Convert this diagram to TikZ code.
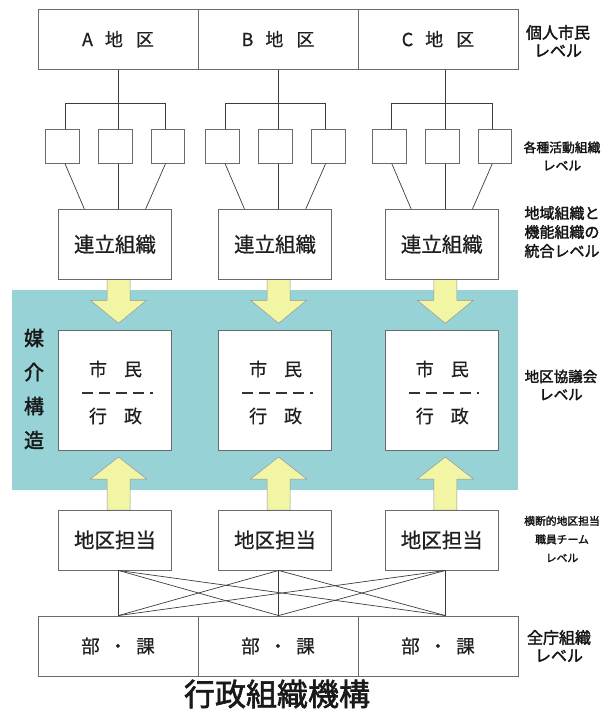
\documentclass[tikz,border=0pt]{standalone}
\usepackage{fontspec}
\newfontfamily\jp[FakeBold=0.6]{Noto Sans CJK JP}
\newfontfamily\jpb[FakeBold=2]{Noto Sans CJK JP}
\usetikzlibrary{calc}
\definecolor{teal1}{HTML}{96D2D6}
\definecolor{yel}{HTML}{F2F5A3}
\definecolor{edge}{HTML}{6A6A6A}
\definecolor{ln}{HTML}{3C3C3C}
\begin{document}
\begin{tikzpicture}[x=1pt,y=-1pt,
  every node/.style={font=\jp, text=black!88},
  cellbox/.style={draw=edge, line width=0.9pt, fill=white, minimum width=160pt, minimum height=60pt, inner sep=0pt},
  smallbox/.style={draw=edge, line width=0.9pt, fill=white, minimum width=33.7pt, minimum height=33.3pt, inner sep=0pt},
  colbox/.style={draw=edge, line width=0.9pt, fill=white, minimum width=113.4pt, inner sep=0pt},
  conn/.style={draw=ln, line width=0.7pt},
  blockarrow/.style={fill=yel, draw=edge!70, line width=0.5pt},
  dashl/.style={draw=black!80, line width=2.4pt},
  lvl/.style={align=center, text=black!92},
]
\useasboundingbox (0,0) rectangle (601,711);
\fill[white] (0,0) rectangle (601,711);
% mediating region
\fill[teal1] (11.5,290) rectangle (518,490);
\node[font=\jpb\fontsize{20}{34}\selectfont, align=center, text=black!90] (med) at (34,389) {媒\\介\\構\\造};

% top and bottom rows
\node[cellbox, font=\jp\fontsize{18}{18}\selectfont] (ta) at (118,39.3) {A\hspace{12pt}地\hspace{13pt}区};
\node[cellbox, font=\jp\fontsize{18}{18}\selectfont] (tb) at (278,39.3) {B\hspace{12pt}地\hspace{13pt}区};
\node[cellbox, font=\jp\fontsize{18}{18}\selectfont] (tc) at (438,39.3) {C\hspace{12pt}地\hspace{13pt}区};
\node[cellbox, font=\jp\fontsize{18.5}{18.5}\selectfont] (ba) at (118,646) {部\hspace{9pt}・\hspace{9pt}課};
\node[cellbox, font=\jp\fontsize{18.5}{18.5}\selectfont] (bb) at (278,646) {部\hspace{9pt}・\hspace{9pt}課};
\node[cellbox, font=\jp\fontsize{18.5}{18.5}\selectfont] (bc) at (438,646) {部\hspace{9pt}・\hspace{9pt}課};

\foreach \n/\L in {a/118.5, b/278.6, c/445.3} {
  \coordinate (L\n) at (\L,0);
  \coordinate (k\n) at (\L,103.3);
  % arrows (drawn first, under the boxes)
  \coordinate (p\n) at (\L,279.3);
  \coordinate (q\n) at (\L,510);
  \filldraw[blockarrow] ($(p\n)+(-11.5,0)$) -- ($(p\n)+(-11.5,21)$) -- ($(p\n)+(-28,21)$) -- ($(p\n)+(0,44)$) -- ($(p\n)+(28,21)$) -- ($(p\n)+(11.5,21)$) -- ($(p\n)+(11.5,0)$) -- cycle;
  \filldraw[blockarrow] ($(q\n)+(-11.5,0)$) -- ($(q\n)+(-11.5,-31)$) -- ($(q\n)+(-28,-31)$) -- ($(q\n)+(0,-53)$) -- ($(q\n)+(28,-31)$) -- ($(q\n)+(11.5,-31)$) -- ($(q\n)+(11.5,0)$) -- cycle;
  % boxes
  \node[smallbox] (s\n1) at (\L-56,146.6) {};
  \node[smallbox] (s\n2) at (\L-3.2,146.6) {};
  \node[smallbox] (s\n3) at (\L+49.5,146.6) {};
  \node[colbox, minimum height=70pt, font=\jp\fontsize{20.5}{20.5}\selectfont] (r\n) at (\L-3.5,244.3) {連立組織};
  \node[colbox, minimum height=120pt] (m\n) at (\L-3.5,390) {};
  \node[colbox, minimum height=60pt, font=\jp\fontsize{20.5}{20.5}\selectfont] (d\n) at (\L-3.5,540) {地区担当};
  \node[font=\jp\fontsize{18}{18}\selectfont] (mt\n) at (\L-3,369) {市\hspace{17pt}民};
  \node[font=\jp\fontsize{18}{18}\selectfont] (mb\n) at (\L-3,416) {行\hspace{17pt}政};
  \draw[dashl, dash pattern=on 11pt off 6pt] ($(m\n.center)+(-33,3)$) -- ($(m\n.center)+(29,3)$);
  \draw[dashl] ($(m\n.center)+(35,3)$) -- ($(m\n.center)+(37.5,3)$);
  % connectors
  \draw[conn] (t\n.south -| L\n) -- (s\n2.north -| L\n);
  \draw[conn] ([xshift=2.5pt]s\n1.north) |- (k\n) -| ([xshift=-2.5pt]s\n3.north);
  \draw[conn] ([xshift=2.5pt]s\n1.south) -- ([xshift=-30.7pt]r\n.north);
  \draw[conn] ([xshift=-2.5pt]s\n3.south) -- ([xshift=30.7pt]r\n.north);
  \draw[conn] (s\n2.south -| L\n) -- (r\n.north -| L\n);
}
\foreach \i in {a,b,c} {
  \foreach \j in {a,b,c} {
    \draw[conn] (d\i.south -| L\i) -- (b\j.north -| L\j);
  }
}

% level labels
\node[lvl, font=\jpb\fontsize{16}{18}\selectfont] (l1) at (558,41) {個人市民\\レベル};
\node[lvl, font=\jpb\fontsize{12.8}{18}\selectfont] (l2) at (562,156) {各種活動組織\\レベル};
\node[lvl, font=\jpb\fontsize{15}{19}\selectfont] (l3) at (562,232) {地域組織と\\機能組織の\\統合レベル};
\node[lvl, font=\jpb\fontsize{14.5}{18}\selectfont] (l4) at (561,385) {地区協議会\\レベル};
\node[lvl, font=\jpb\fontsize{10.8}{18.5}\selectfont] (l5) at (562,539) {横断的地区担当\\職員チーム\\レベル};
\node[lvl, font=\jpb\fontsize{16}{18}\selectfont] (l6) at (559,646) {全庁組織\\レベル};

% title
\node[font=\jpb\fontsize{31}{31}\selectfont, text=black!90] (title) at (277,694) {行政組織機構};
\end{tikzpicture}
\end{document}
